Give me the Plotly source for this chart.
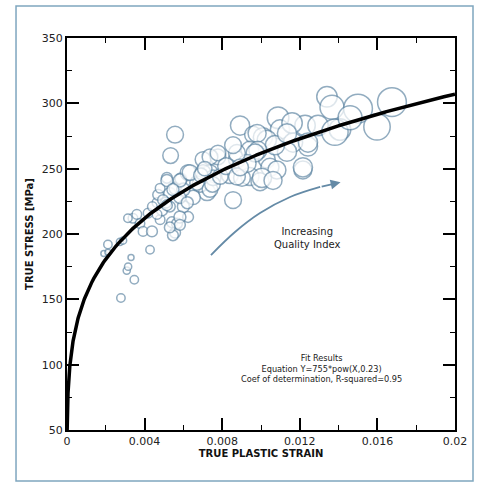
import numpy as np
import plotly.graph_objects as go

# Measured samples: true plastic strain, true stress (MPa), quality index
strain = [
    0.00278, 0.00347, 0.00308, 0.00315, 0.00330, 0.00428, 0.00190, 0.00211, 0.00211, 0.00273,
    0.00289, 0.00340, 0.00314, 0.00360, 0.00376, 0.00392, 0.00418, 0.00438, 0.00464, 0.00480,
    0.00515, 0.00530, 0.00557, 0.00541, 0.00557, 0.00470, 0.00440, 0.00490, 0.00530, 0.00557,
    0.00534, 0.00588, 0.00624, 0.00701, 0.00778, 0.00892, 0.00959, 0.00856, 0.00722, 0.00686,
    0.00737, 0.00840, 0.00876, 0.00943, 0.00943, 0.00480, 0.00510, 0.00600, 0.00624, 0.00567,
    0.00546, 0.00650, 0.00464, 0.00495, 0.00600, 0.00582, 0.00515, 0.00582, 0.00670, 0.00737,
    0.00582, 0.00546, 0.00620, 0.00515, 0.00530, 0.00582, 0.00634, 0.00701, 0.00753, 0.00902,
    0.00737, 0.00778, 0.00995, 0.01030, 0.00750, 0.00790, 0.00690, 0.00820, 0.00710,
    0.01340, 0.01366, 0.01227, 0.01088, 0.01098, 0.01160, 0.01294, 0.01407, 0.01010, 0.01030,
    0.00980, 0.01242, 0.01216, 0.01165, 0.01134, 0.01072, 0.00984, 0.01046, 0.01082, 0.00970,
    0.00928, 0.00876, 0.01005, 0.01062, 0.00876, 0.00892, 0.00856, 0.01134, 0.01242, 0.01216,
    0.01675, 0.01500, 0.01598, 0.01381, 0.01459,
]
stress = [
    151, 165, 172, 175, 182, 188, 185, 186, 192, 194,
    195, 212, 212, 215, 208, 202, 216, 202, 224, 211,
    243, 231, 235, 209, 201, 230, 221, 218, 221, 276,
    260, 242, 247, 257, 259, 283, 276, 226, 232, 238,
    247, 245, 257, 264, 244, 235, 224, 221, 213, 208,
    199, 228, 215, 226, 234, 213, 241, 241, 239, 234,
    228, 234, 224, 222, 205, 207, 247, 247, 243, 243,
    259, 262, 240, 257, 238, 244, 245, 252, 250,
    305, 297, 283, 289, 280, 285, 283, 280, 274, 272,
    277, 267, 249, 270, 263, 268, 264, 251, 249, 262,
    254, 262, 243, 241, 244, 251, 268, 277, 270, 251,
    301, 296, 282, 278, 289,
]
quality = [
    7, 7, 6, 6, 5, 7, 5, 5, 7, 6,
    6, 8, 7, 8, 8, 8, 8, 9, 8, 8,
    9, 10, 10, 9, 9, 9, 8, 9, 9, 14,
    13, 10, 13, 13, 13, 16, 14, 14, 14, 13,
    13, 14, 14, 15, 15, 8, 9, 10, 9, 9,
    9, 12, 8, 9, 11, 10, 10, 11, 12, 13,
    10, 10, 10, 9, 9, 9, 13, 13, 13, 14,
    13, 13, 15, 14, 13, 13, 12, 14, 12,
    17, 20, 17, 18, 16, 17, 17, 18, 16, 16,
    15, 16, 15, 16, 16, 16, 15, 15, 15, 15,
    15, 14, 16, 15, 14, 14, 14, 16, 16, 16,
    24, 24, 22, 22, 20,
]

# Power-law fit: Y = 755 * X^0.23
fit_coef = 755
fit_exp = 0.23

x_ticks = [0, 0.004, 0.008, 0.012, 0.016, 0.02]
x_tick_text = ["0", "0.004", "0.008", "0.012", "0.016", "0.02"]
y_ticks = [50, 100, 150, 200, 250, 300, 350]

# Direction arrow path for increasing quality index
arrow_x = [0.00742, 0.00866, 0.00995, 0.01150, 0.01305, 0.01410]
arrow_y = [183.9, 201.5, 216.0, 228.3, 236.0, 239.6]

BLUE = "#648aa6"
FONT = "DejaVu Sans"
SIZE_SCALE = 1.2

x_start = (50 / fit_coef) ** (1 / fit_exp)
fit_x = np.concatenate([np.geomspace(x_start, 0.001, 200), np.linspace(0.001, 0.02, 200)[1:]])
fit_y = fit_coef * fit_x ** fit_exp

fig = go.Figure()

fig.add_trace(go.Scatter(
    x=strain, y=stress, mode="markers",
    marker=dict(size=[q * SIZE_SCALE for q in quality], sizemode="diameter",
                color="white", line=dict(color=BLUE, width=1.5)),
    showlegend=False, hoverinfo="x+y",
))

fig.add_trace(go.Scatter(
    x=fit_x, y=fit_y, mode="lines",
    line=dict(color="black", width=3.5), showlegend=False, hoverinfo="skip",
))

fig.add_trace(go.Scatter(
    x=arrow_x[:-1], y=arrow_y[:-1], mode="lines", line=dict(color=BLUE, width=1.8, shape="spline"),
    showlegend=False, hoverinfo="skip",
))

# Invisible trace so the mirrored top/right axes get drawn
fig.add_trace(go.Scatter(x=[0], y=[50], xaxis="x2", yaxis="y2", mode="markers",
                         marker=dict(opacity=0), showlegend=False, hoverinfo="skip"))

fig.add_annotation(
    x=arrow_x[-1], y=arrow_y[-1], ax=arrow_x[-2], ay=arrow_y[-2],
    xref="x", yref="y", axref="x", ayref="y", text="",
    showarrow=True, arrowhead=2, arrowsize=1.1, arrowwidth=1.8, arrowcolor=BLUE,
)

fig.add_annotation(
    x=0.01242, y=196.6, xref="x", yref="y", showarrow=False,
    text="Increasing<br>Quality Index", align="center",
    font=dict(family=FONT, size=10, color="#222"),
)

fig.add_annotation(
    x=0.0131, y=97.4, xref="x", yref="y", showarrow=False,
    text="Fit Results<br>Equation Y=755*pow(X,0.23)<br>Coef of determination, R-squared=0.95",
    align="center", font=dict(family=FONT, size=8.2, color="#222"),
)

# Light blue outer frame
fig.add_shape(type="rect", xref="paper", yref="paper",
              x0=-0.1314, x1=1.0464, y0=-0.130, y1=1.0816,
              line=dict(color="#7fa6bf", width=1.5), layer="below")

tick_common = dict(
    showgrid=False, zeroline=False, showline=True, linecolor="black", linewidth=2,
    ticks="inside", ticklen=12, tickwidth=1.5, tickcolor="black",
    tickfont=dict(family=FONT, size=11, color="#222"),
)
x_minor = dict(ticks="inside", ticklen=5, tickwidth=1.2, tickcolor="black", dtick=0.002)
y_minor = dict(ticks="inside", ticklen=5, tickwidth=1.2, tickcolor="black", dtick=25)

fig.update_layout(
    xaxis=dict(
        range=[0, 0.02], tickvals=x_ticks, ticktext=x_tick_text, minor=x_minor, mirror=True,
        title=dict(text="<b>TRUE PLASTIC STRAIN</b>", font=dict(family=FONT, size=10, color="#111"), standoff=2),
        **tick_common,
    ),
    yaxis=dict(
        range=[50, 350], tickvals=y_ticks, minor=y_minor, mirror=True,
        title=dict(text="<b>TRUE STRESS [MPa]</b>", font=dict(family=FONT, size=10, color="#111"), standoff=6),
        **tick_common,
    ),
    xaxis2=dict(range=[0, 0.02], tickvals=x_ticks, minor=x_minor, overlaying="x", side="top",
                showticklabels=False, **tick_common),
    yaxis2=dict(range=[50, 350], tickvals=y_ticks, minor=y_minor, overlaying="y", side="right",
                showticklabels=False, **tick_common),
    width=484, height=484,
    margin=dict(l=67, r=29, t=38, b=54),
    paper_bgcolor="white", plot_bgcolor="white",
)

fig.write_html("out.html")
